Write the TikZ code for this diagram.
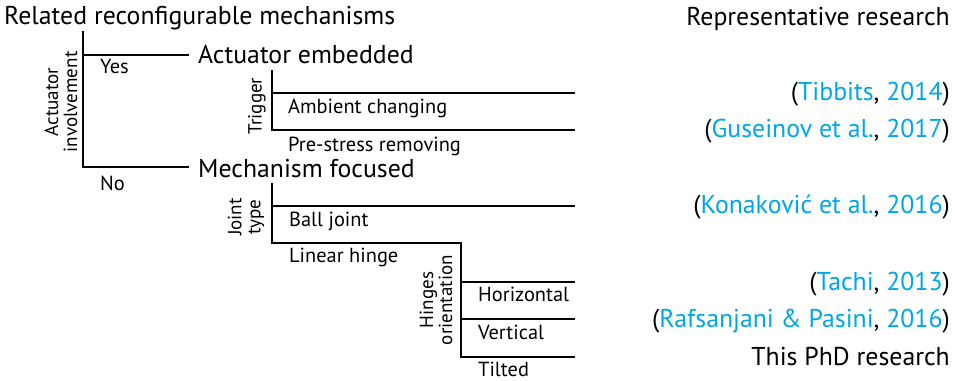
\documentclass[tikz,border=0pt]{standalone}
\usepackage{fontspec}
\setmainfont{PT Sans}
\definecolor{citecol}{RGB}{0,166,230}
\newlength\mywidth
\settowidth\mywidth{\fontsize{10pt}{12pt}\selectfont Related reconfigurable mechanisms}
\pgfmathsetmacro\bigfs{10*391/\mywidth}
\settowidth\mywidth{\fontsize{10pt}{12pt}\selectfont Ambient changing}
\pgfmathsetmacro\smallfs{10*159/\mywidth}
\settowidth\mywidth{\fontsize{10pt}{12pt}\selectfont involvement}
\pgfmathsetmacro\rotfs{10*101/\mywidth}
\pgfmathsetmacro\rotbs{1.0*\rotfs}
\newcommand\cit[2]{(\textcolor{citecol}{#1}, \textcolor{citecol}{#2})}
\tikzset{
  bigtxt/.style={font=\fontsize{\bigfs pt}{\bigfs pt}\selectfont, inner sep=0pt},
  smalltxt/.style={font=\fontsize{\smallfs pt}{\smallfs pt}\selectfont, inner sep=0pt, anchor=base west},
  rottxt/.style={font=\fontsize{\rotfs pt}{\rotbs pt}\selectfont, inner sep=0pt, align=center, rotate=90},
  cite/.style={bigtxt, anchor=base east},
  tree/.style={line width=1.8pt, line join=miter, line cap=rect},
}
\begin{document}
\begin{tikzpicture}[x=1pt,y=-1pt]
\useasboundingbox (0,0) rectangle (955,380);
% headers
\node[bigtxt, anchor=base west] (title) at (4,24) {Related reconfigurable mechanisms};
\node[bigtxt, anchor=base east] (rep) at (950,25) {Representative research};
% level 1
\coordinate (a0) at (83,32);
\coordinate (aY) at (83,55);
\coordinate (aN) at (83,167);
\coordinate (yesEnd) at (188,55);
\coordinate (noEnd) at (188,167);
\draw[tree] (a0) -- (aN) -- (noEnd);
\draw[tree] (aY) -- (yesEnd);
\node[rottxt] (actlbl) at (61,102) {Actuator\\involvement};
\node[smalltxt] (yes) at (100,73) {Yes};
\node[smalltxt] (no) at (100,190) {No};
\node[bigtxt, anchor=base west] (emb) at (198,63) {Actuator embedded};
\node[bigtxt, anchor=base west] (mech) at (198,177) {Mechanism focused};
% trigger
\coordinate (t0) at (272,71);
\coordinate (t1) at (272,93);
\coordinate (t2) at (272,130);
\coordinate (t1e) at (574,93);
\coordinate (t2e) at (574,130);
\draw[tree] (t0) -- (t2) -- (t2e);
\draw[tree] (t1) -- (t1e);
\node[rottxt] (trig) at (257,106) {Trigger};
\node[smalltxt] (amb) at (288,113) {Ambient changing};
\node[smalltxt] (pre) at (288,151) {Pre-stress removing};
% joint type
\coordinate (j0) at (272,184);
\coordinate (j1) at (272,206);
\coordinate (j2) at (272,243);
\coordinate (j1e) at (574,206);
\coordinate (h0) at (461,243);
\coordinate (h1) at (461,282);
\coordinate (h2) at (461,319);
\coordinate (h3) at (461,357);
\coordinate (h1e) at (574,282);
\coordinate (h2e) at (574,319);
\coordinate (h3e) at (574,357);
\draw[tree] (j0) -- (j2) -- (h0) -- (h3) -- (h3e);
\draw[tree] (j1) -- (j1e);
\draw[tree] (h1) -- (h1e);
\draw[tree] (h2) -- (h2e);
\node[rottxt] (jt) at (246,217) {Joint\\type};
\node[smalltxt] (ball) at (289,226) {Ball joint};
\node[smalltxt] (lin) at (289,262) {Linear hinge};
\node[rottxt] (ho) at (436,300) {Hinges\\orientation};
\node[smalltxt] (hor) at (478,301) {Horizontal};
\node[smalltxt] (ver) at (478,339) {Vertical};
\node[smalltxt] (til) at (478,376) {Tilted};
% citations
\node[cite] (c1) at (950,100) {\cit{Tibbits}{2014}};
\node[cite] (c2) at (950,137) {\cit{Guseinov et al.}{2017}};
\node[cite] (c3) at (950,213) {\cit{Konaković et al.}{2016}};
\node[cite] (c4) at (950,290) {\cit{Tachi}{2013}};
\node[cite] (c5) at (950,327) {\cit{Rafsanjani \& Pasini}{2016}};
\node[cite] (c6) at (950,365) {This PhD research};
\end{tikzpicture}
\end{document}
